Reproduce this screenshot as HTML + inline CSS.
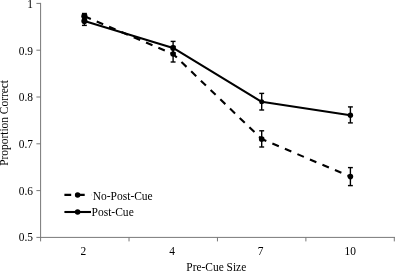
<!DOCTYPE html>
<html lang="en"><head><meta charset="utf-8"><title>Proportion Correct by Pre-Cue Size</title>
<style>html,body{margin:0;padding:0;background:#fff;overflow:hidden}body{width:395px;height:271px;position:relative}</style></head>
<body>
<svg width="395" height="271" viewBox="0 0 395 271" style="display:block;position:absolute;left:0;top:0">
<rect width="395" height="271" fill="#fff"/>
<g stroke="#787878" stroke-width="1" fill="none">
<line x1="40.6" y1="2.9" x2="40.6" y2="241.4"/>
<line x1="36.4" y1="237.4" x2="395" y2="237.4"/>
<line x1="36.4" y1="3.4" x2="40.6" y2="3.4"/>
<line x1="36.4" y1="50.2" x2="40.6" y2="50.2"/>
<line x1="36.4" y1="97.0" x2="40.6" y2="97.0"/>
<line x1="36.4" y1="143.8" x2="40.6" y2="143.8"/>
<line x1="36.4" y1="190.6" x2="40.6" y2="190.6"/>
<line x1="129.03" y1="237.4" x2="129.03" y2="241.4"/>
<line x1="217.45" y1="237.4" x2="217.45" y2="241.4"/>
<line x1="305.88" y1="237.4" x2="305.88" y2="241.4"/>
<line x1="394.30" y1="237.4" x2="394.30" y2="241.4"/>
</g>
<g font-family="'Liberation Serif', 'Times New Roman', serif" fill="#000">
<text transform="translate(33,7.9) scale(0.953,1)" font-size="12" text-anchor="end">1</text>
<text transform="translate(33,54.8) scale(0.953,1)" font-size="12" text-anchor="end">0.9</text>
<text transform="translate(33,101.4) scale(0.953,1)" font-size="12" text-anchor="end">0.8</text>
<text transform="translate(33,148.3) scale(0.953,1)" font-size="12" text-anchor="end">0.7</text>
<text transform="translate(33,194.9) scale(0.953,1)" font-size="12" text-anchor="end">0.6</text>
<text transform="translate(33,241.3) scale(0.953,1)" font-size="12" text-anchor="end">0.5</text>
<text transform="translate(83.45,254.7) scale(0.953,1)" font-size="12" text-anchor="middle">2</text>
<text transform="translate(172.0,254.7) scale(0.953,1)" font-size="12" text-anchor="middle">4</text>
<text transform="translate(260.55,254.7) scale(0.953,1)" font-size="12" text-anchor="middle">7</text>
<text transform="translate(350.15,254.7) scale(0.953,1)" font-size="12" text-anchor="middle">10</text>
<text transform="translate(216.3,270.6) scale(0.977,1)" font-size="11.7" text-anchor="middle">Pre-Cue Size</text>
<text transform="translate(8.2,122.9) rotate(-90) scale(0.977,1)" font-size="11.7" text-anchor="middle">Proportion Correct</text>
<text transform="translate(92.7,199.5) scale(0.983,1)" font-size="11.7" text-anchor="start">No-Post-Cue</text>
<text transform="translate(91.5,215.5) scale(0.985,1)" font-size="11.7" text-anchor="start">Post-Cue</text>
</g>
<g stroke="#000" stroke-width="1.4" fill="none">
<line x1="84.40" y1="13.50" x2="84.40" y2="18.90"/><line x1="81.95" y1="13.50" x2="86.85" y2="13.50"/><line x1="81.95" y1="18.90" x2="86.85" y2="18.90"/>
<line x1="84.40" y1="16.60" x2="84.40" y2="25.40"/><line x1="81.95" y1="16.60" x2="86.85" y2="16.60"/><line x1="81.95" y1="25.40" x2="86.85" y2="25.40"/>
<line x1="173.10" y1="46.40" x2="173.10" y2="62.00"/><line x1="170.65" y1="46.40" x2="175.55" y2="46.40"/><line x1="170.65" y1="62.00" x2="175.55" y2="62.00"/>
<line x1="173.10" y1="41.40" x2="173.10" y2="52.70"/><line x1="170.65" y1="41.40" x2="175.55" y2="41.40"/><line x1="170.65" y1="52.70" x2="175.55" y2="52.70"/>
<line x1="261.70" y1="130.80" x2="261.70" y2="147.00"/><line x1="259.25" y1="130.80" x2="264.15" y2="130.80"/><line x1="259.25" y1="147.00" x2="264.15" y2="147.00"/>
<line x1="261.70" y1="93.40" x2="261.70" y2="110.00"/><line x1="259.25" y1="93.40" x2="264.15" y2="93.40"/><line x1="259.25" y1="110.00" x2="264.15" y2="110.00"/>
<line x1="350.40" y1="167.60" x2="350.40" y2="185.60"/><line x1="347.95" y1="167.60" x2="352.85" y2="167.60"/><line x1="347.95" y1="185.60" x2="352.85" y2="185.60"/>
<line x1="350.40" y1="106.90" x2="350.40" y2="122.90"/><line x1="347.95" y1="106.90" x2="352.85" y2="106.90"/><line x1="347.95" y1="122.90" x2="352.85" y2="122.90"/>
</g>
<line x1="84.40" y1="16.2" x2="173.10" y2="54.0" stroke="#000" stroke-width="2.1" stroke-dasharray="7.0 6.40" stroke-dashoffset="0.00"/>
<line x1="173.10" y1="54.0" x2="261.70" y2="139.0" stroke="#000" stroke-width="2.1" stroke-dasharray="7.0 6.45" stroke-dashoffset="1.85"/>
<line x1="261.70" y1="139.0" x2="350.40" y2="176.6" stroke="#000" stroke-width="2.1" stroke-dasharray="7.0 6.59" stroke-dashoffset="1.99"/>
<polyline points="84.40,21.0 173.10,47.9 261.70,101.8 350.40,115.2" fill="none" stroke="#000" stroke-width="2.1" stroke-linejoin="round"/>
<circle cx="84.40" cy="16.2" r="3.1" fill="#000"/>
<circle cx="84.40" cy="21.0" r="3.1" fill="#000"/>
<circle cx="173.10" cy="54.0" r="2.8" fill="#000"/>
<circle cx="173.10" cy="47.9" r="2.85" fill="#000"/>
<circle cx="261.70" cy="139.0" r="2.85" fill="#000"/>
<circle cx="261.70" cy="101.8" r="2.5" fill="#000"/>
<circle cx="350.40" cy="176.6" r="2.8" fill="#000"/>
<circle cx="350.40" cy="115.2" r="2.7" fill="#000"/>
<line x1="64.4" y1="194.9" x2="91.5" y2="194.9" stroke="#000" stroke-width="2.1" stroke-dasharray="6.8 6.7"/>
<circle cx="77.6" cy="194.9" r="2.75" fill="#000"/>
<line x1="64.4" y1="212" x2="91" y2="212" stroke="#000" stroke-width="2.1"/>
<circle cx="77.6" cy="212" r="2.75" fill="#000"/>
</svg>
</body></html>
